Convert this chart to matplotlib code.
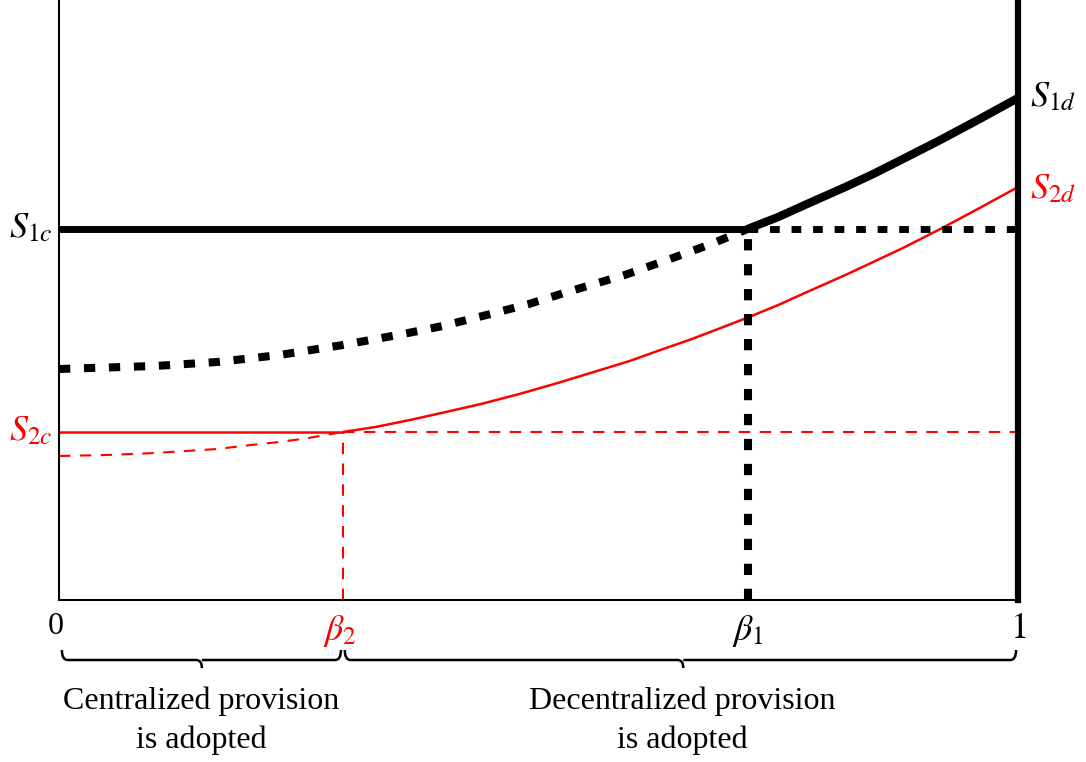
import numpy as np
import matplotlib
matplotlib.use("Agg")
import matplotlib.pyplot as plt
from matplotlib.path import Path
from matplotlib.patches import PathPatch

plt.rcParams['font.family'] = ['Liberation Serif', 'DejaVu Serif']
plt.rcParams['mathtext.fontset'] = 'stix'

# thresholds and levels (y in pixel-like units, 0..600)
beta2 = 0.296
beta1 = 0.718
s1c = 371
s2c = 168

# S1 curve (black): dotted below beta1, solid above
x1 = np.array([0, 0.10, 0.165, 0.23, 0.296, 0.359, 0.40, 0.45, 0.49, 0.53, 0.59, 0.64, 0.68,
               0.718, 0.75, 0.78, 0.82, 0.849, 0.88, 0.919, 0.96, 1.0])
y1 = np.array([231, 234, 238, 245, 255, 266, 274, 286, 296, 308, 325, 342, 356,
               371, 383, 396, 413, 426, 441, 460, 481, 502])

# S2 curve (red): dashed below beta2, solid above
x2 = np.array([0, 0.05, 0.10, 0.165, 0.20, 0.23, 0.26, 0.296, 0.33, 0.366, 0.408, 0.44, 0.48,
               0.52, 0.561, 0.595, 0.63, 0.66, 0.69, 0.717, 0.75, 0.78, 0.82, 0.849, 0.88,
               0.919, 0.96, 1.0])
y2 = np.array([144, 145, 147, 151, 155, 158, 162, 168, 173, 180, 189, 196, 206,
               217, 229, 239, 251, 261, 272, 282, 295, 308, 325, 338, 352,
               371, 392, 413])

regions = ["Centralized provision\nis adopted", "Decentralized provision\nis adopted"]

fig = plt.figure(figsize=(10.86, 7.62), dpi=100)
ax = fig.add_axes([59 / 1086, 162 / 762, 959 / 1086, 600 / 762])
ax.set_xlim(0, 1)
ax.set_ylim(0, 600)
ax.set_xticks([])
ax.set_yticks([])
ax.spines['top'].set_visible(False)
ax.spines['right'].set_linewidth(4.5)
ax.spines['left'].set_linewidth(1.5)
ax.spines['bottom'].set_linewidth(1.5)

dot = (0, (1.4, 1.7))
dash = (0, (5.5, 4.5))

# red lines
m = x2 <= beta2
ax.plot(x2[m], y2[m], color='red', lw=1.5, ls=dash)
m = x2 >= beta2
ax.plot(x2[m], y2[m], color='red', lw=1.8, solid_capstyle='butt')
ax.plot([0, beta2], [s2c, s2c], color='red', lw=1.8)
ax.plot([beta2, 1], [s2c, s2c], color='red', lw=1.5, ls=dash)
ax.plot([beta2, beta2], [0, s2c], color='red', lw=1.5, ls=dash)

# black lines
m = x1 <= beta1
ax.plot(x1[m], y1[m], color='black', lw=5.8, ls=dot, dash_capstyle='butt')
m = x1 >= beta1
ax.plot(x1[m], y1[m], color='black', lw=6, solid_capstyle='butt')
ax.plot([0, beta1], [s1c, s1c], color='black', lw=5)
ax.plot([beta1, 1], [s1c, s1c], color='black', lw=5, ls=dot, dash_capstyle='butt')
ax.plot([beta1, beta1], [0, s1c], color='black', lw=5.8, ls=dot, dash_capstyle='butt')

# curve labels
fs = 26
ax.text(-0.007, s1c, r'$S_{1c}$', ha='right', va='center', fontsize=fs)
ax.text(-0.007, s2c, r'$S_{2c}$', ha='right', va='center', fontsize=fs, color='red')
ax.text(1.013, y1[-1], r'$S_{1d}$', ha='left', va='center', fontsize=fs)
ax.text(1.013, y2[-1] - 3, r'$S_{2d}$', ha='left', va='center', fontsize=fs, color='red')

# axis labels
ax.text(-0.003, -27, '0', ha='center', va='center', fontsize=23, clip_on=False)
ax.text(beta2 - 0.003, -31, r'$\beta_2$', ha='center', va='center', fontsize=fs, color='red')
ax.text(beta1, -31, r'$\beta_1$', ha='center', va='center', fontsize=fs)
ax.text(1.0, -29, r'$1$', ha='center', va='center', fontsize=fs)


def brace(x0, x1, xm):
    dx = 0.006
    verts = [(x0, -50), (x0, -60), (x0 + dx, -60),
             (xm - dx, -60), (xm, -60), (xm, -68),
             (xm, -60), (xm + dx, -60),
             (x1 - dx, -60), (x1, -60), (x1, -50)]
    codes = [Path.MOVETO, Path.CURVE3, Path.CURVE3,
             Path.LINETO, Path.CURVE3, Path.CURVE3,
             Path.MOVETO, Path.LINETO,
             Path.LINETO, Path.CURVE3, Path.CURVE3]
    p = PathPatch(Path(verts, codes), fill=False, lw=1.8, color='black',
                  transform=ax.transData, clip_on=False)
    ax.add_patch(p)


brace(0.003, beta2 - 0.002, 0.149)
brace(beta2 + 0.002, 0.998, 0.651)

ax.text(0.148, -121, regions[0], ha='center', va='center', fontsize=23, linespacing=1.42)
ax.text(0.650, -121, regions[1], ha='center', va='center', fontsize=23, linespacing=1.42)

fig.savefig('out.png', dpi=100)
